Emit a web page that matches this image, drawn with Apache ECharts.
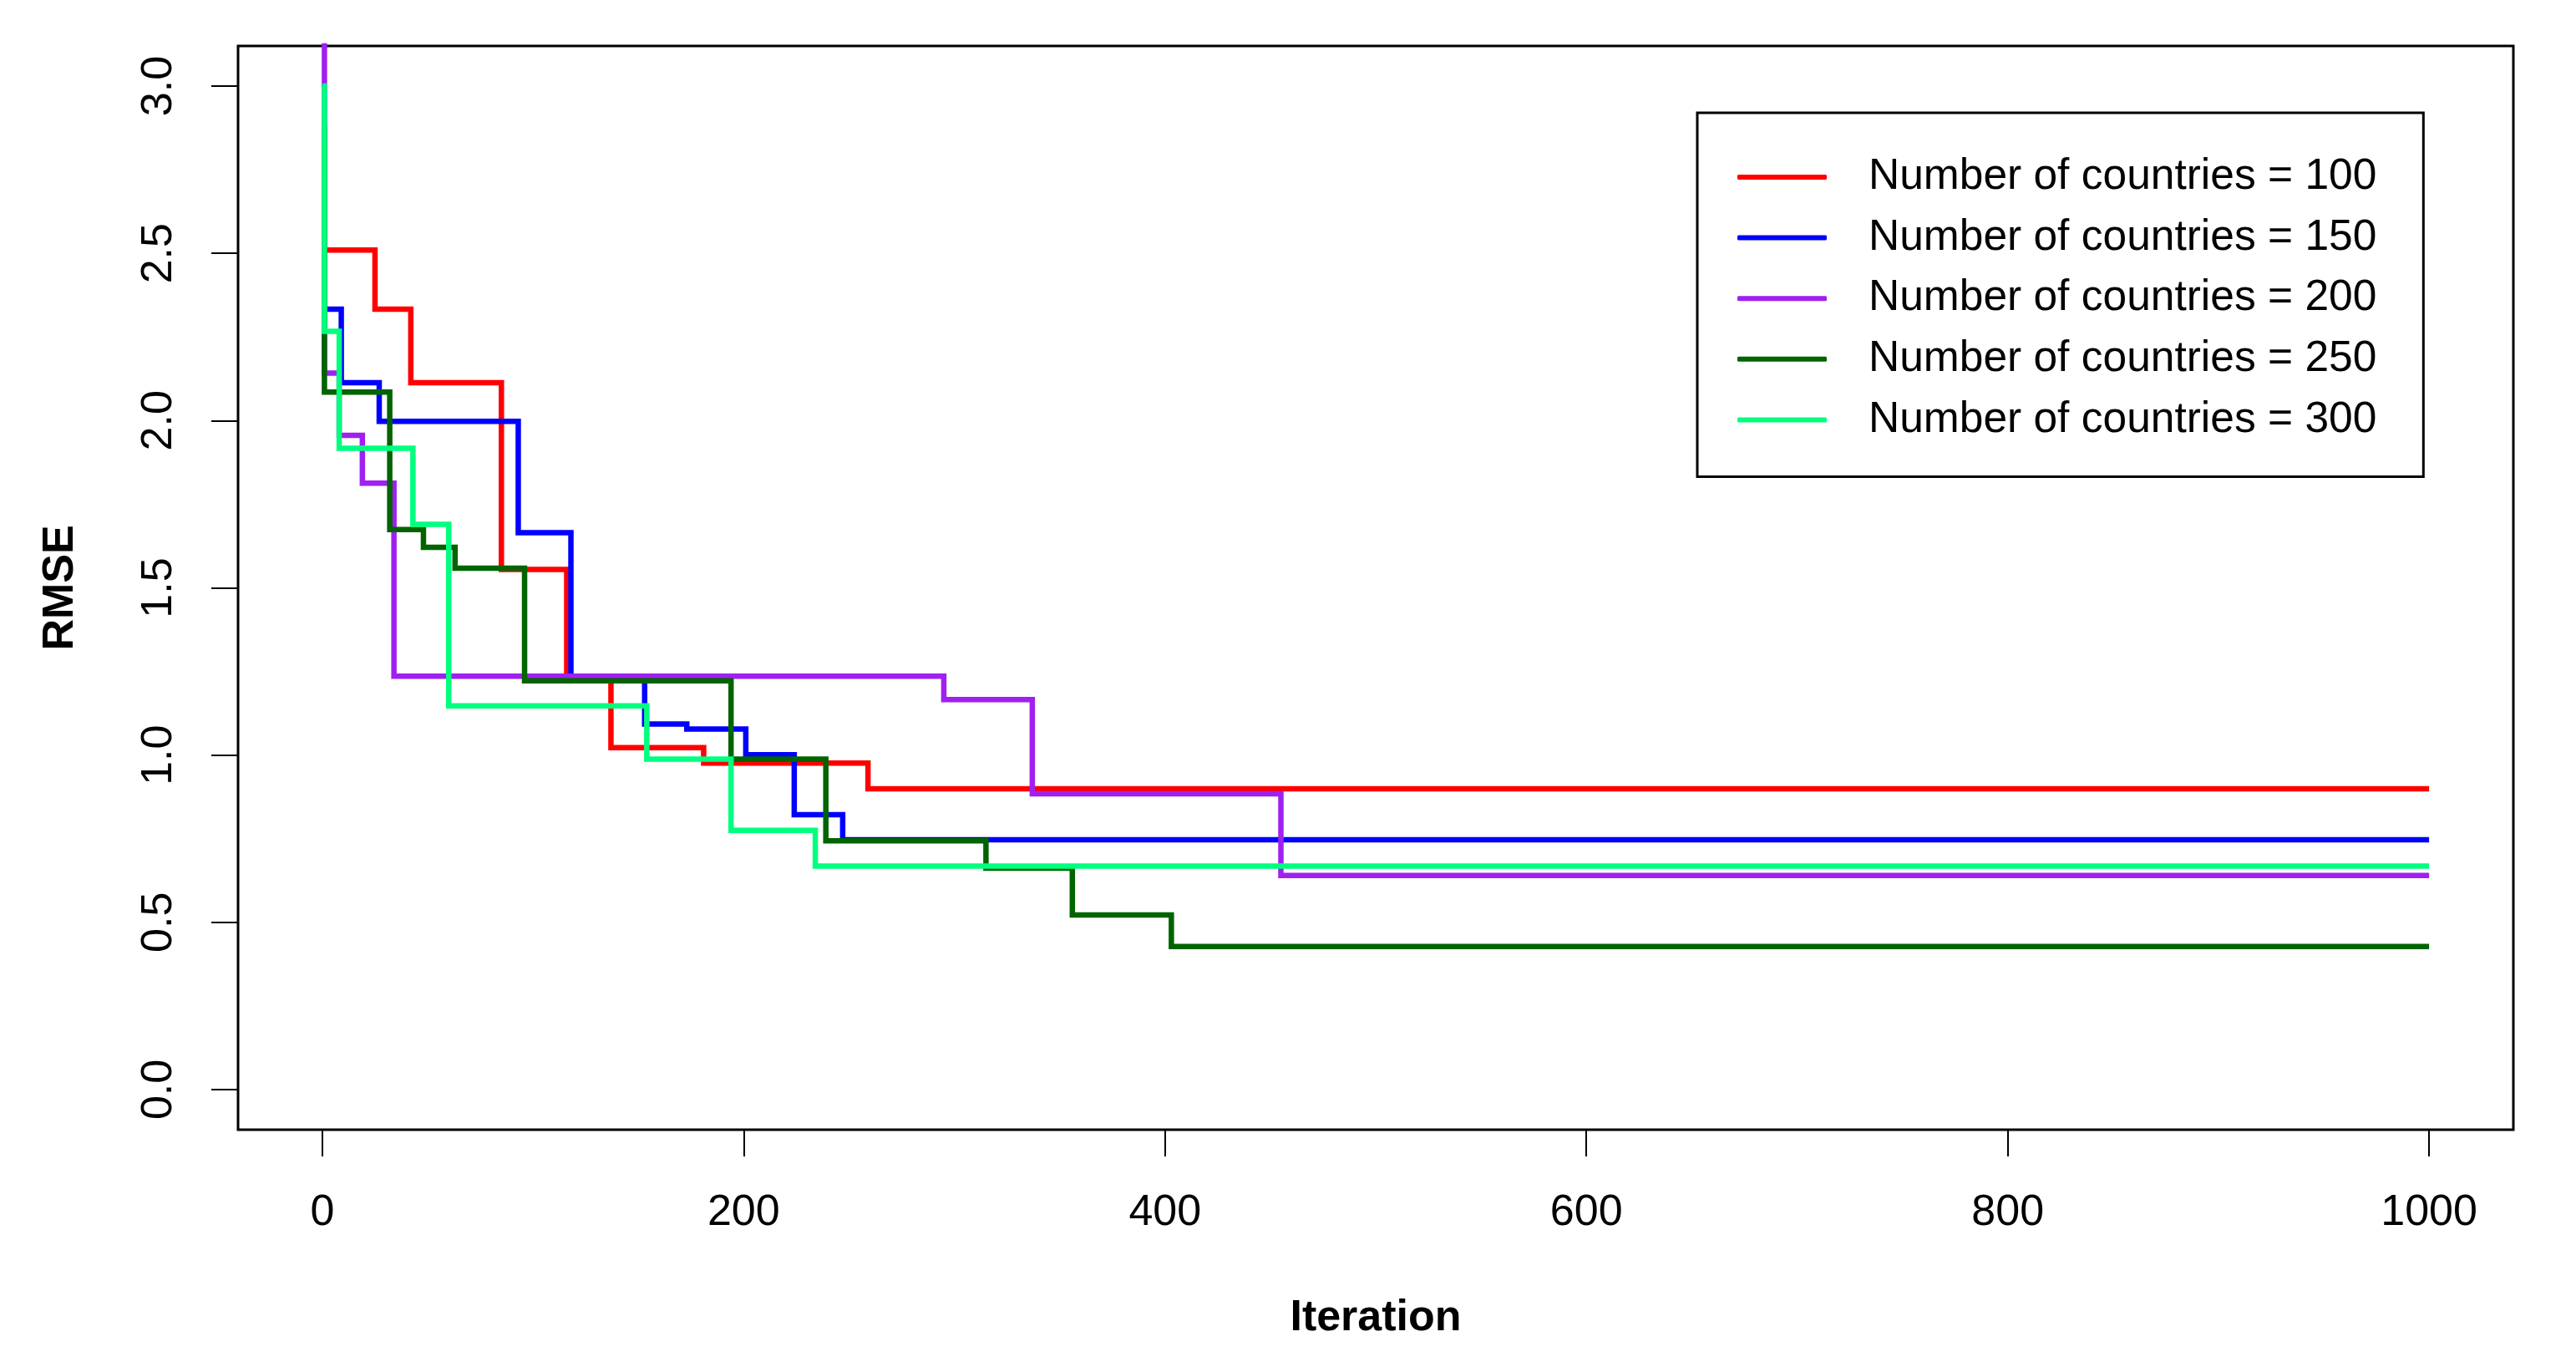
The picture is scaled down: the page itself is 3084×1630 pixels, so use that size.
<!DOCTYPE html>
<html>
<head>
<meta charset="utf-8">
<script src="https://cdn.jsdelivr.net/npm/echarts@6/dist/echarts.min.js"></script>
<style>
html,body{margin:0;padding:0;background:#ffffff;}
#chart{width:3084px;height:1630px;}
</style>
</head>
<body>
<div id="chart"></div>
<script>
// ---- data ----
const seriesNames = [
  'Number of countries = 100',
  'Number of countries = 150',
  'Number of countries = 200',
  'Number of countries = 250',
  'Number of countries = 300'
];
const seriesColors = ['#FF0000', '#0000FF', '#A020F0', '#006400', '#00FF7F'];

// iteration at which each RMSE level starts (step function), and the level
const iter100 = [0, 1, 25, 42, 85, 116, 137, 181, 259, 1000];
const rmse100 = [2.88, 2.51, 2.333, 2.113, 1.555, 1.23, 1.022, 0.976, 0.899, 0.899];

const iter150 = [0, 1, 9, 27, 93, 118, 153, 173, 201, 224, 247, 1000];
const rmse150 = [2.72, 2.333, 2.113, 1.998, 1.665, 1.23, 1.093, 1.078, 1.001, 0.822, 0.747, 0.747];

const iter200 = [0, 1, 8, 19, 34, 295, 337, 455, 1000];
const rmse200 = [3.3, 2.142, 1.956, 1.813, 1.236, 1.166, 0.884, 0.640, 0.640];

const iter250 = [0, 1, 32, 48, 63, 96, 194, 239, 315, 356, 403, 1000];
const rmse250 = [2.86, 2.085, 1.674, 1.621, 1.559, 1.222, 0.988, 0.744, 0.662, 0.522, 0.428, 0.428];

const iter300 = [0, 1, 8, 43, 60, 154, 194, 234, 1000];
const rmse300 = [3.0, 2.267, 1.917, 1.690, 1.147, 0.988, 0.775, 0.668, 0.668];

const xTickValues = [0, 200, 400, 600, 800, 1000];
const yTickValues = [0, 0.5, 1.0, 1.5, 2.0, 2.5, 3.0];

// ---- build ----
const allIters = [iter100, iter150, iter200, iter250, iter300];
const allRmse = [rmse100, rmse150, rmse200, rmse250, rmse300];
const FONT = 'Liberation Sans';

const series = seriesNames.map((name, k) => ({
  name: name,
  type: 'line',
  step: 'end',
  data: allIters[k].map((it, i) => [it, allRmse[k][i]]),
  showSymbol: false,
  symbol: 'none',
  clip: true,
  lineStyle: { color: seriesColors[k], width: 6.5, cap: 'butt', join: 'miter' },
  itemStyle: { color: seriesColors[k] },
  emphasis: { disabled: true },
  animation: false
}));

const chart = echarts.init(document.getElementById('chart'), null, { renderer: 'canvas' });
chart.setOption({
  backgroundColor: '#ffffff',
  animation: false,
  textStyle: { fontFamily: FONT },
  grid: {
    left: 285, top: 55, width: 2724, height: 1297,
    show: true, borderColor: '#000000', borderWidth: 3, backgroundColor: 'transparent'
  },
  xAxis: {
    type: 'value',
    min: -40, max: 1040,
    name: 'Iteration',
    nameLocation: 'middle',
    nameGap: 200,
    nameTextStyle: { fontFamily: FONT, fontSize: 52, fontWeight: 'bold', color: '#000000' },
    axisLine: { show: false, onZero: false },
    splitLine: { show: false },
    axisTick: { show: true, inside: false, customValues: xTickValues, length: 32, lineStyle: { color: '#000000', width: 2 } },
    axisLabel: { show: true, customValues: xTickValues, margin: 74, fontFamily: FONT, fontSize: 52, color: '#000000',
      formatter: v => String(v) }
  },
  yAxis: {
    type: 'value',
    min: -0.12, max: 3.12,
    name: 'RMSE',
    nameLocation: 'middle',
    nameGap: 186,
    nameTextStyle: { fontFamily: FONT, fontSize: 52, fontWeight: 'bold', color: '#000000' },
    axisLine: { show: false, onZero: false },
    splitLine: { show: false },
    axisTick: { show: true, inside: false, customValues: yTickValues, length: 32, lineStyle: { color: '#000000', width: 2 } },
    axisLabel: {
      show: true, customValues: yTickValues, margin: 68, rotate: 90,
      fontFamily: FONT, fontSize: 52, color: '#000000',
      formatter: v => Number(v).toFixed(1)
    }
  },
  legend: {
    show: true,
    orient: 'vertical',
    left: 2032, top: 135,
    padding: [47, 56, 38, 48],
    itemGap: 12.6,
    itemWidth: 107,
    itemHeight: 6,
    icon: 'roundRect',
    selectedMode: false,
    borderColor: '#000000',
    borderWidth: 3,
    borderRadius: 0,
    backgroundColor: '#ffffff',
    textStyle: { fontFamily: FONT, fontSize: 51.5, lineHeight: 60, color: '#000000', padding: [0, 0, 0, 45] },
    data: seriesNames
  },
  series: series
});
</script>
</body>
</html>
